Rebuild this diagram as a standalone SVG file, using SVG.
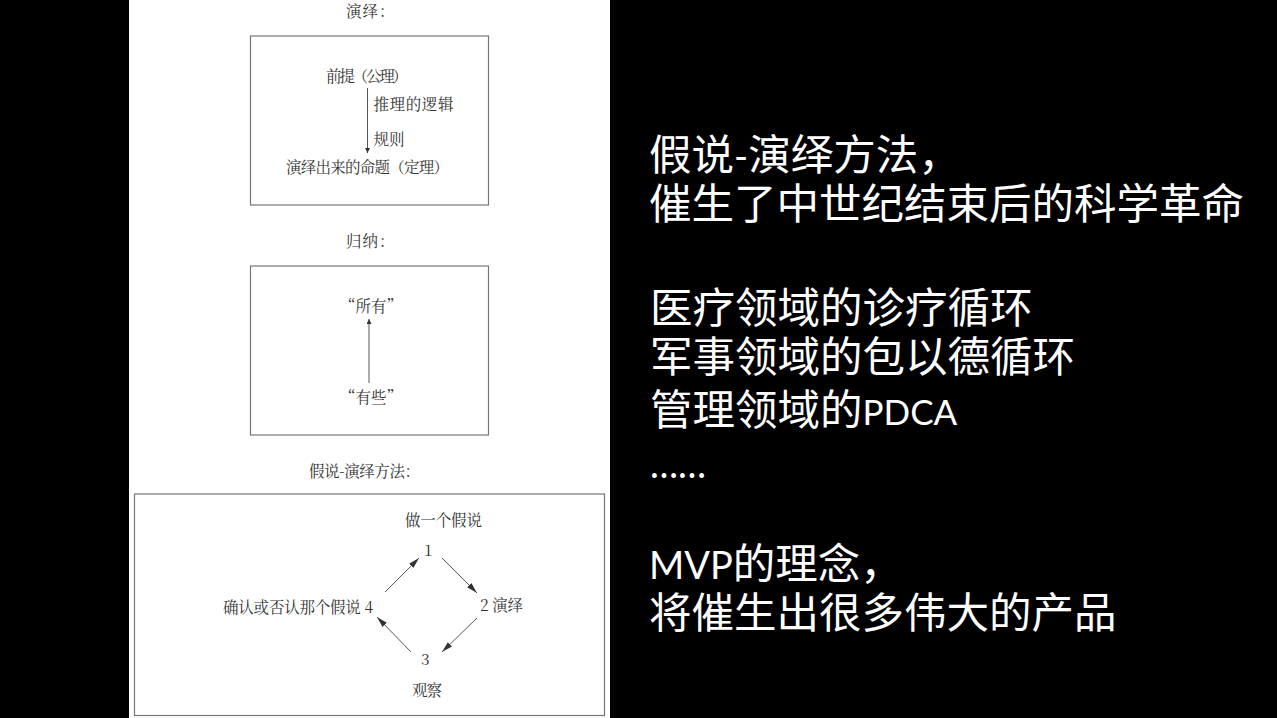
<svg xmlns="http://www.w3.org/2000/svg" width="1277" height="718" viewBox="0 0 1277 718">
<style>
.s{font-family:"Noto Serif CJK SC","Liberation Serif","Noto Sans CJK SC",serif;font-size:15.500px;fill:#333}
.b{fill:none;stroke:#777;stroke-width:1.200}
.c{stroke:#444;stroke-width:.9;fill:none}
.k{marker-end:url(#a)}
.v{marker-end:url(#t)}
.w{font-family:"Liberation Sans","Noto Sans CJK SC",sans-serif;font-size:42.500px;fill:#fff}
.l{font-family:"Lato","Liberation Sans",sans-serif;font-size:38px}
.p{font-size:35px}
</style>
<defs>
<marker id="a" markerUnits="userSpaceOnUse" markerWidth="12" markerHeight="8" refX="11" refY="3" orient="auto"><path d="M0 0L11 3L0 6Z" fill="#333"/></marker>
<marker id="t" markerUnits="userSpaceOnUse" markerWidth="7" markerHeight="7" refX="5" refY="2.500" orient="auto"><path d="M0 0L5 2.500L0 5Z" fill="#333"/></marker>
</defs>
<rect width="1277" height="718" fill="#000"/>
<rect x="129" width="481" height="718" fill="#fff"/>
<g id="panel-deduction">
<text class="s" x="346" y="17" letter-spacing="1">演绎：</text>
<rect class="b" x="250.500" y="36" width="238" height="169"/>
<text class="s" x="326" y="82" textLength="82">前提（公理）</text>
<text class="s" x="373.500" y="110" textLength="80">推理的逻辑</text>
<text class="s" x="373.500" y="145" textLength="31">规则</text>
<text class="s" x="286" y="173" textLength="163">演绎出来的命题（定理）</text>
</g>
<g id="panel-induction">
<text class="s" x="346" y="247" letter-spacing="1">归纳：</text>
<rect class="b" x="250.500" y="266" width="238" height="169"/>
<text class="s" x="340" y="312">“所有”</text>
<text class="s" x="340" y="403">“有些”</text>
</g>
<g id="panel-hypothesis">
<text class="s" x="309" y="477" textLength="111">假说-演绎方法：</text>
<rect class="b" x="134.500" y="494" width="470" height="221.500"/>
<text class="s" x="405" y="526" textLength="77">做一个假说</text>
<text class="s" x="424" y="556">1</text>
<text class="s" x="480" y="611" textLength="43">2 演绎</text>
<text class="s" x="421" y="665">3</text>
<text class="s" x="223" y="613" textLength="150">确认或否认那个假说 4</text>
<text class="s" x="412" y="696" textLength="30">观察</text>
</g>
<g id="connectors">
<path class="c v" d="M367.500 88V153"/>
<path class="c v" d="M369 383V319"/>
<path class="c k" d="M385 592L419 558"/>
<path class="c k" d="M442 558L477 593"/>
<path class="c k" d="M477 618L442 652"/>
<path class="c k" d="M411 652L377 617"/>
</g>
<g id="slide-text">
<text class="w" x="649" y="170">假说<tspan class="l">-</tspan>演绎方法，</text>
<text class="w" x="649" y="219">催生了中世纪结束后的科学革命</text>
<text class="w" x="650" y="323">医疗领域的诊疗循环</text>
<text class="w" x="650" y="372">军事领域的包以德循环</text>
<text class="w" x="650" y="425">管理领域的<tspan class="l p">PDCA</tspan></text>
<text class="w l" x="650" y="478" textLength="56" lengthAdjust="spacingAndGlyphs">……</text>
<text class="w" x="649" y="579"><tspan class="l">MVP</tspan>的理念，</text>
<text class="w" x="649" y="628">将催生出很多伟大的产品</text>
</g>
</svg>
